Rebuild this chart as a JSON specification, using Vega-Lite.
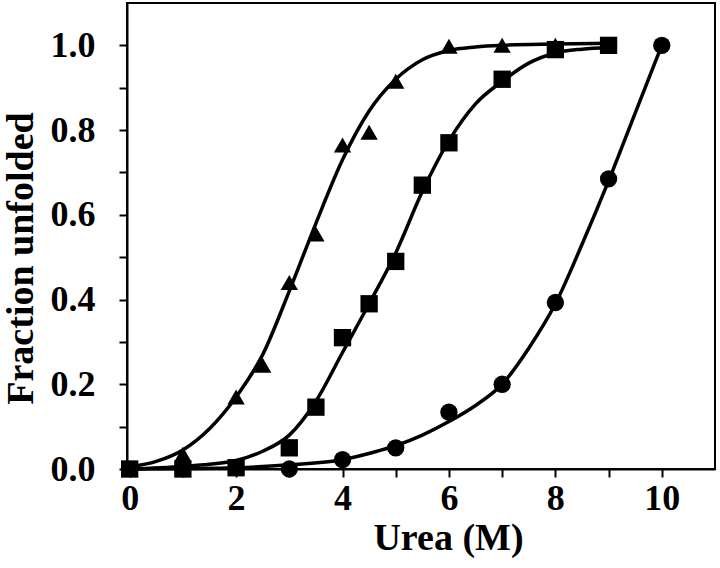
{
  "$schema": "https://vega.github.io/schema/vega-lite/v6.json",
  "autosize": "none",
  "padding": {"left": 127, "top": 3, "right": 5, "bottom": 99},
  "width": 588,
  "height": 466,
  "background": "white",
  "config": {
    "view": {"stroke": "black", "strokeWidth": 2},
    "axis": {
      "domainColor": "black", "domainWidth": 2,
      "tickColor": "black", "tickWidth": 2, "tickSize": 8,
      "grid": false,
      "labelFont": "Liberation Serif", "labelFontWeight": "bold", "labelFontSize": 36, "labelColor": "black",
      "titleFont": "Liberation Serif", "titleFontWeight": "bold", "titleFontSize": 38, "titleColor": "black"
    }
  },
  "data": {"values": [
    {"series": "A", "kind": "point", "urea": 0, "frac": 0},
    {"series": "A", "kind": "point", "urea": 1, "frac": 0.035},
    {"series": "A", "kind": "point", "urea": 2, "frac": 0.17},
    {"series": "A", "kind": "point", "urea": 2.5, "frac": 0.245},
    {"series": "A", "kind": "point", "urea": 3, "frac": 0.44},
    {"series": "A", "kind": "point", "urea": 3.5, "frac": 0.555},
    {"series": "A", "kind": "point", "urea": 4, "frac": 0.765},
    {"series": "A", "kind": "point", "urea": 4.5, "frac": 0.795},
    {"series": "A", "kind": "point", "urea": 5, "frac": 0.915},
    {"series": "A", "kind": "point", "urea": 6, "frac": 0.998},
    {"series": "A", "kind": "point", "urea": 7, "frac": 1.0},
    {"series": "A", "kind": "point", "urea": 8, "frac": 1.0},
    {"series": "B", "kind": "point", "urea": 0, "frac": 0},
    {"series": "B", "kind": "point", "urea": 1, "frac": 0},
    {"series": "B", "kind": "point", "urea": 2, "frac": 0.003},
    {"series": "B", "kind": "point", "urea": 3, "frac": 0.05},
    {"series": "B", "kind": "point", "urea": 3.5, "frac": 0.146},
    {"series": "B", "kind": "point", "urea": 4, "frac": 0.31},
    {"series": "B", "kind": "point", "urea": 4.5, "frac": 0.39},
    {"series": "B", "kind": "point", "urea": 5, "frac": 0.49},
    {"series": "B", "kind": "point", "urea": 5.5, "frac": 0.67},
    {"series": "B", "kind": "point", "urea": 6, "frac": 0.77},
    {"series": "B", "kind": "point", "urea": 7, "frac": 0.92},
    {"series": "B", "kind": "point", "urea": 8, "frac": 0.99},
    {"series": "B", "kind": "point", "urea": 9, "frac": 1.0},
    {"series": "C", "kind": "point", "urea": 3, "frac": 0.0},
    {"series": "C", "kind": "point", "urea": 4, "frac": 0.022},
    {"series": "C", "kind": "point", "urea": 5, "frac": 0.05},
    {"series": "C", "kind": "point", "urea": 6, "frac": 0.134},
    {"series": "C", "kind": "point", "urea": 7, "frac": 0.2},
    {"series": "C", "kind": "point", "urea": 8, "frac": 0.393},
    {"series": "C", "kind": "point", "urea": 9, "frac": 0.685},
    {"series": "C", "kind": "point", "urea": 10, "frac": 1.0},

    {"series": "A", "kind": "curve", "urea": 0, "frac": 0.005},
    {"series": "A", "kind": "curve", "urea": 0.5, "frac": 0.018},
    {"series": "A", "kind": "curve", "urea": 1, "frac": 0.045},
    {"series": "A", "kind": "curve", "urea": 1.5, "frac": 0.095},
    {"series": "A", "kind": "curve", "urea": 2, "frac": 0.17},
    {"series": "A", "kind": "curve", "urea": 2.5, "frac": 0.27},
    {"series": "A", "kind": "curve", "urea": 3, "frac": 0.42},
    {"series": "A", "kind": "curve", "urea": 3.5, "frac": 0.58},
    {"series": "A", "kind": "curve", "urea": 4, "frac": 0.73},
    {"series": "A", "kind": "curve", "urea": 4.5, "frac": 0.845},
    {"series": "A", "kind": "curve", "urea": 5, "frac": 0.92},
    {"series": "A", "kind": "curve", "urea": 5.5, "frac": 0.966},
    {"series": "A", "kind": "curve", "urea": 6, "frac": 0.988},
    {"series": "A", "kind": "curve", "urea": 6.5, "frac": 0.996},
    {"series": "A", "kind": "curve", "urea": 7, "frac": 1.0},
    {"series": "A", "kind": "curve", "urea": 8, "frac": 1.003},
    {"series": "A", "kind": "curve", "urea": 9, "frac": 1.005},

    {"series": "B", "kind": "curve", "urea": 0, "frac": 0.0},
    {"series": "B", "kind": "curve", "urea": 1, "frac": 0.006},
    {"series": "B", "kind": "curve", "urea": 1.5, "frac": 0.011},
    {"series": "B", "kind": "curve", "urea": 2, "frac": 0.02},
    {"series": "B", "kind": "curve", "urea": 2.5, "frac": 0.042},
    {"series": "B", "kind": "curve", "urea": 3, "frac": 0.08},
    {"series": "B", "kind": "curve", "urea": 3.5, "frac": 0.16},
    {"series": "B", "kind": "curve", "urea": 4, "frac": 0.275},
    {"series": "B", "kind": "curve", "urea": 4.5, "frac": 0.39},
    {"series": "B", "kind": "curve", "urea": 5, "frac": 0.51},
    {"series": "B", "kind": "curve", "urea": 5.5, "frac": 0.655},
    {"series": "B", "kind": "curve", "urea": 6, "frac": 0.775},
    {"series": "B", "kind": "curve", "urea": 6.5, "frac": 0.862},
    {"series": "B", "kind": "curve", "urea": 7, "frac": 0.915},
    {"series": "B", "kind": "curve", "urea": 7.5, "frac": 0.958},
    {"series": "B", "kind": "curve", "urea": 8, "frac": 0.982},
    {"series": "B", "kind": "curve", "urea": 8.5, "frac": 0.991},
    {"series": "B", "kind": "curve", "urea": 9, "frac": 0.995},

    {"series": "C", "kind": "curve", "urea": 0, "frac": 0.0},
    {"series": "C", "kind": "curve", "urea": 1, "frac": 0.001},
    {"series": "C", "kind": "curve", "urea": 2, "frac": 0.003},
    {"series": "C", "kind": "curve", "urea": 3, "frac": 0.01},
    {"series": "C", "kind": "curve", "urea": 4, "frac": 0.022},
    {"series": "C", "kind": "curve", "urea": 4.6, "frac": 0.04},
    {"series": "C", "kind": "curve", "urea": 5, "frac": 0.055},
    {"series": "C", "kind": "curve", "urea": 5.5, "frac": 0.08},
    {"series": "C", "kind": "curve", "urea": 6, "frac": 0.112},
    {"series": "C", "kind": "curve", "urea": 6.5, "frac": 0.15},
    {"series": "C", "kind": "curve", "urea": 7, "frac": 0.2},
    {"series": "C", "kind": "curve", "urea": 7.5, "frac": 0.285},
    {"series": "C", "kind": "curve", "urea": 8, "frac": 0.39},
    {"series": "C", "kind": "curve", "urea": 8.5, "frac": 0.53},
    {"series": "C", "kind": "curve", "urea": 9, "frac": 0.68},
    {"series": "C", "kind": "curve", "urea": 9.5, "frac": 0.84},
    {"series": "C", "kind": "curve", "urea": 10, "frac": 1.0}
  ]},
  "encoding": {
    "x": {
      "field": "urea", "type": "quantitative",
      "scale": {"domain": [-0.05, 11], "nice": false, "zero": false},
      "axis": {
        "title": "Urea (M)",
        "values": [0, 1, 2, 3, 4, 5, 6, 7, 8, 9, 10],
        "labelExpr": "datum.value % 2 === 0 ? format(datum.value, 'd') : ''",
        "labelPadding": 4, "titlePadding": 3, "titleX": 321
      }
    },
    "y": {
      "field": "frac", "type": "quantitative",
      "scale": {"domain": [0, 1.1], "nice": false, "zero": false},
      "axis": {
        "title": "Fraction unfolded",
        "values": [0, 0.1, 0.2, 0.3, 0.4, 0.5, 0.6, 0.7, 0.8, 0.9, 1.0],
        "labelExpr": "round(datum.value * 10) % 2 === 0 ? format(datum.value, '.1f') : ''",
        "labelPadding": 24, "titlePadding": 10, "titleY": 255
      }
    }
  },
  "layer": [
    {
      "transform": [{"filter": "datum.kind === 'curve'"}],
      "mark": {"type": "line", "color": "black", "strokeWidth": 3.5, "interpolate": "monotone"},
      "encoding": {"detail": {"field": "series", "type": "nominal"}}
    },
    {
      "transform": [{"filter": "datum.kind === 'point'"}],
      "mark": {"type": "point", "filled": true, "color": "black", "opacity": 1, "size": 300},
      "encoding": {
        "shape": {
          "field": "series", "type": "nominal",
          "scale": {"domain": ["A", "B", "C"], "range": ["triangle-up", "square", "circle"]},
          "legend": null
        }
      }
    }
  ]
}
